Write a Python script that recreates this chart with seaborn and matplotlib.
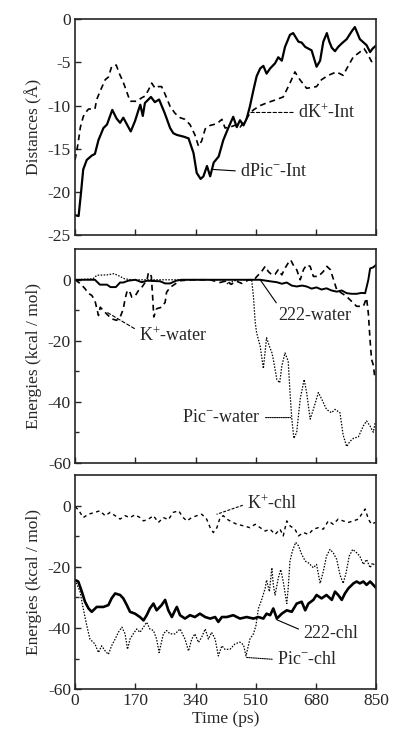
import numpy as np
import pandas as pd
import matplotlib
matplotlib.use("Agg")
import matplotlib.pyplot as plt
import seaborn as sns

# ---- panel 1: distances (A) ----
dpic_t = [0, 10, 17, 23, 33, 47, 56, 66, 80, 90, 105, 117, 127, 136, 157, 169, 179, 184, 191, 197,
          214, 225, 237, 253, 268, 277, 287, 306, 320, 334, 343, 354, 362, 372, 381, 391, 405, 418,
          432, 446, 456, 465, 475, 484, 493, 503, 512, 522, 531, 540, 550, 564, 573, 583, 592, 606,
          615, 630, 639, 649, 667, 681, 691, 700, 710, 717, 724, 733, 742, 752, 766, 780, 789, 803,
          822, 832, 839, 850]
dpic_v = [-22.7, -22.8, -20.0, -17.4, -16.3, -15.8, -15.6, -14.0, -12.6, -12.2, -10.5, -11.5, -12.0,
          -11.4, -13.0, -11.8, -10.5, -9.9, -11.2, -9.7, -9.0, -9.6, -9.3, -10.9, -12.6, -13.2, -13.4,
          -13.6, -13.8, -15.5, -17.8, -18.5, -18.2, -17.0, -18.2, -16.6, -15.9, -14.0, -12.6, -11.3,
          -12.5, -11.7, -12.3, -11.5, -10.1, -8.2, -6.6, -5.7, -5.4, -6.3, -5.7, -5.1, -4.4, -4.8,
          -3.2, -1.8, -1.6, -2.6, -2.7, -3.2, -3.6, -5.5, -4.8, -2.6, -1.6, -2.6, -3.3, -3.7, -3.2,
          -2.8, -2.3, -1.4, -0.9, -2.3, -3.0, -3.8, -3.4, -3.0]

dk_t = [0, 8, 15, 23, 28, 38, 56, 61, 70, 85, 94, 103, 116, 125, 136, 150, 155, 174, 188, 197, 207,
        216, 226, 235, 244, 254, 268, 282, 296, 310, 324, 338, 348, 357, 367, 381, 400, 414, 423,
        437, 456, 465, 475, 484, 493, 503, 522, 540, 568, 587, 606, 620, 634, 653, 681, 695, 714,
        737, 756, 765, 784, 803, 815, 826, 836, 845, 850]
dk_v = [-16.3, -14.5, -12.5, -11.3, -10.9, -10.4, -10.4, -9.3, -8.4, -7.0, -6.7, -5.5, -5.3, -6.3,
        -7.3, -8.9, -9.5, -9.5, -9.1, -8.9, -8.2, -7.4, -8.0, -7.8, -7.8, -8.7, -10.1, -10.9, -11.4,
        -11.6, -12.2, -13.4, -14.7, -14.1, -12.7, -12.3, -12.1, -11.6, -12.6, -12.5, -12.2, -12.5,
        -12.0, -11.5, -10.9, -10.5, -10.0, -9.7, -9.3, -9.0, -7.4, -6.1, -7.0, -8.0, -7.8, -7.0,
        -6.5, -6.1, -6.5, -5.8, -4.4, -3.8, -3.4, -4.1, -4.9, -4.7, -4.4]

# ---- panel 2: water energies ----
w222_t = [0, 56, 70, 90, 100, 115, 127, 136, 150, 170, 188, 203, 240, 254, 268, 285, 300, 522, 550,
          569, 583, 597, 611, 625, 640, 653, 667, 681, 695, 709, 723, 738, 752, 766, 780, 794, 808,
          818, 827, 832, 841, 850]
w222_v = [0, 0, -1.6, -1.6, -2.4, -2.4, -0.9, -0.9, -0.3, 0, -0.8, -0.3, -0.5, -1.2, -1.2, -0.3, 0,
          0, -0.5, -0.8, -1.3, -0.9, -1.9, -2.2, -1.9, -2.2, -2.9, -2.5, -3.2, -2.8, -3.5, -3.9,
          -3.5, -4.4, -4.6, -4.6, -4.3, -4.4, 0, 3.7, 4.1, 5.0]

kw_t = [0, 14, 28, 38, 47, 56, 66, 71, 80, 89, 103, 117, 127, 136, 141, 147, 153, 160, 170, 179,
        188, 203, 207, 215, 219, 222, 230, 244, 254, 258, 268, 282, 296, 330, 380, 409, 428, 440,
        456, 470, 490, 505, 512, 526, 536, 545, 555, 564, 573, 583, 592, 601, 608, 615, 625, 635,
        644, 653, 663, 672, 686, 700, 710, 720, 729, 738, 752, 766, 780, 794, 813, 822, 827, 832,
        836, 841, 846]
kw_v = [0, -1.2, -2.9, -4.5, -5.1, -6.8, -11.7, -9.0, -10.1, -11.2, -12.8, -13.3, -12.3, -9.6, -6.3,
        -3.6, -3.6, -5.7, -5.2, -3.5, -2.5, 0, 2.4, 1.2, -6.0, -12.2, -9.5, -9.0, -7.4, -4.1, -2.5,
        -1.4, -0.3, 0, 0, -0.9, -0.3, -1.5, -0.5, -1.2, 0, 0, 1.0, 2.7, 4.4, 2.7, 1.6, 1.8, 3.3,
        1.6, 3.8, 5.5, 6.5, 4.9, 3.3, 0, 3.3, 4.9, 4.4, 1.1, 1.1, 2.7, 4.4, 3.3, 0, -3.3, -4.4,
        -5.5, -7.1, -8.7, -8.7, -6.0, -11.0, -20.0, -26.0, -28.0, -32.7]

picw_t = [0, 50, 62, 90, 110, 125, 140, 160, 420, 432, 445, 460, 498, 503, 508, 512, 522, 526, 531,
          540, 548, 555, 559, 569, 577, 583, 592, 601, 606, 611, 617, 625, 635, 646, 653, 663, 672,
          686, 695, 709, 723, 733, 747, 756, 766, 775, 785, 799, 813, 822, 832, 841, 846]
picw_v = [0, 0.3, 1.5, 1.6, 2.0, 1.2, 0.3, 0, 0, -1.5, -0.5, 0, 0, -5.5, -14.0, -17.4, -21.8, -25.0,
          -29.1, -19.0, -21.8, -23.9, -26.1, -32.7, -33.8, -28.3, -24.0, -26.7, -36.7, -45.4, -52.0,
          -50.0, -39.0, -32.7, -37.0, -45.7, -42.5, -37.0, -39.0, -42.5, -43.6, -42.5, -43.6, -51.0,
          -54.7, -53.0, -52.0, -51.5, -47.9, -46.3, -48.0, -50.0, -47.0]

# ---- panel 3: chloroform energies ----
kchl_t = [0, 9, 23, 38, 56, 70, 85, 99, 113, 127, 141, 155, 169, 183, 193, 207, 221, 235, 249, 263,
          277, 292, 305, 315, 329, 343, 357, 371, 381, 390, 400, 409, 418, 428, 437, 456, 475, 493,
          508, 522, 536, 550, 564, 578, 587, 597, 606, 620, 630, 644, 658, 672, 686, 700, 714, 728,
          742, 756, 770, 785, 799, 808, 818, 827, 836, 846]
kchl_v = [-0.4, -1.3, -3.9, -2.8, -2.2, -1.7, -3.3, -2.2, -3.3, -4.4, -3.3, -3.9, -3.0, -3.9, -5.0,
          -4.4, -3.3, -5.5, -3.9, -4.6, -2.2, -1.7, -3.9, -5.0, -3.9, -3.3, -2.8, -4.4, -7.2, -8.8,
          -7.2, -3.9, -3.3, -4.4, -5.0, -6.1, -6.6, -7.2, -6.1, -7.2, -8.3, -7.7, -9.4, -7.7, -9.9,
          -5.0, -6.6, -7.7, -9.9, -8.8, -9.4, -7.7, -7.2, -7.7, -5.0, -6.1, -4.4, -5.0, -5.5, -5.0,
          -4.4, -2.8, -1.1, -4.4, -6.1, -5.5]

chl222_t = [0, 9, 19, 28, 38, 47, 61, 80, 94, 103, 113, 127, 136, 146, 155, 169, 183, 193, 202, 211,
            221, 230, 244, 254, 263, 273, 282, 287, 296, 310, 324, 338, 352, 367, 381, 395, 404,
            414, 428, 446, 465, 484, 503, 517, 531, 540, 550, 559, 569, 583, 597, 611, 625, 639,
            649, 658, 672, 681, 695, 709, 724, 733, 742, 752, 761, 771, 785, 794, 803, 813, 822,
            832, 841, 850]
chl222_v = [-24.3, -24.8, -28.1, -31.4, -33.6, -34.7, -33.1, -33.1, -32.5, -30.3, -28.7, -29.2, -30.3,
            -32.5, -34.7, -35.3, -36.4, -37.5, -35.8, -33.6, -32.0, -34.2, -32.5, -30.8, -34.2,
            -36.4, -34.2, -33.1, -35.8, -36.9, -35.8, -36.4, -35.3, -36.4, -36.9, -36.4, -38.0,
            -36.4, -36.4, -35.8, -36.9, -36.4, -36.9, -36.4, -36.9, -35.3, -35.8, -33.6, -36.9,
            -35.3, -34.2, -34.7, -32.0, -31.4, -34.2, -32.0, -30.8, -29.2, -30.3, -29.2, -30.8,
            -28.1, -29.2, -30.8, -28.7, -27.0, -25.4, -24.8, -25.4, -24.8, -25.9, -24.8, -25.9,
            -27.0]

picchl_t = [0, 14, 23, 33, 42, 56, 66, 75, 85, 94, 103, 113, 122, 132, 141, 148, 155, 164, 174, 183,
            193, 202, 211, 221, 230, 237, 249, 258, 268, 282, 296, 310, 320, 329, 338, 348, 357,
            367, 376, 385, 395, 404, 414, 423, 437, 451, 465, 475, 482, 493, 503, 510, 517, 526,
            536, 540, 548, 555, 559, 564, 573, 580, 587, 597, 601, 606, 613, 622, 630, 639, 649,
            658, 672, 681, 691, 700, 709, 719, 728, 738, 747, 756, 764, 773, 783, 794, 803, 813,
            822, 832, 839, 846]
picchl_v = [-24.3, -28.1, -33.6, -39.2, -43.6, -45.2, -48.0, -45.8, -47.5, -48.6, -45.8, -43.6, -41.4,
            -39.7, -41.9, -46.9, -43.6, -41.9, -40.3, -41.4, -39.7, -38.1, -40.3, -40.8, -43.6,
            -48.0, -41.9, -40.8, -41.9, -41.9, -40.3, -43.6, -47.5, -43.6, -41.9, -44.7, -43.0,
            -40.3, -43.6, -41.4, -43.6, -49.1, -45.8, -47.0, -46.9, -45.2, -44.6, -45.5, -49.1,
            -43.6, -41.9, -39.2, -33.6, -30.8, -27.0, -24.3, -28.1, -20.3, -25.9, -29.2, -23.7,
            -20.9, -24.8, -32.0, -27.0, -18.1, -14.8, -12.0, -13.1, -15.9, -18.1, -18.7, -20.3,
            -19.2, -25.4, -21.5, -16.5, -14.3, -15.4, -17.6, -22.6, -25.4, -22.1, -16.5, -14.3,
            -15.4, -16.5, -19.2, -17.6, -20.3, -18.7, -19.8]

time_ticks = [0, 170, 340, 510, 680, 850]

sns.set_style("ticks")
plt.rcParams['font.family'] = ['Liberation Serif', 'DejaVu Serif']
plt.rcParams['font.size'] = 12.5
plt.rcParams['axes.unicode_minus'] = False
plt.rcParams['axes.linewidth'] = 1.2
plt.rcParams['mathtext.fontset'] = 'custom'
plt.rcParams['mathtext.rm'] = 'Liberation Serif'
plt.rcParams['mathtext.default'] = 'rm'

fig = plt.figure(figsize=(3.93, 7.36), dpi=100)
ax1 = fig.add_axes([0.191, 0.6807, 0.767, 0.2931])
ax2 = fig.add_axes([0.191, 0.3713, 0.767, 0.2900])
ax3 = fig.add_axes([0.191, 0.0635, 0.767, 0.2911])


def draw(ax, t, v, lw, dashes=None):
    df = pd.DataFrame({"t": t, "v": v})
    sns.lineplot(data=df, x="t", y="v", ax=ax, color="black", lw=lw,
                 estimator=None, sort=True)
    if dashes is not None:
        ax.lines[-1].set_dashes(dashes)


def label(ax, txt, xy, xytext, ls="-", relpos=(0, 0.5), ha="left"):
    ax.annotate(txt, xy=xy, xytext=xytext, ha=ha, va="center", fontsize=13,
                arrowprops=dict(arrowstyle="-", color="black", lw=0.8, linestyle=ls,
                                relpos=relpos, shrinkA=1, shrinkB=0))


# panel 1
draw(ax1, dpic_t, dpic_v, 1.6)
draw(ax1, dk_t, dk_v, 1.2, (3.5, 2.5))
ax1.set_ylim(-25, 0)
ax1.set_yticks([0, -5, -10, -15, -20, -25])
ax1.set_ylabel("Distances (Å)")
label(ax1, r"dK$^{+}$-Int", (495, -10.8), (628, -10.8), ls=(0, (3, 2)))
label(ax1, r"dPic$^{-}$-Int", (388, -17.4), (465, -17.6))

# panel 2
draw(ax2, w222_t, w222_v, 1.4)
draw(ax2, kw_t, kw_v, 1.2, (3.5, 2.5))
draw(ax2, picw_t, picw_v, 0.9, (1.2, 1.2))
ax2.set_ylim(-60, 10)
ax2.set_yticks([-60, -40, -20, 0])
ax2.set_yticks([-50, -30, -10], minor=True)
ax2.set_ylabel("Energies (kcal / mol)")
label(ax2, r"K$^{+}$-water", (92, -10.8), (180, -18.4), ls=(0, (3, 2)), relpos=(0, 0.75))
label(ax2, "222-water", (522, 0), (572, -11.8), relpos=(0.02, 1.0))
label(ax2, r"Pic$^{-}$-water", (608, -45.2), (524, -45.2), ls=(0, (1, 1)), relpos=(1, 0.5), ha="right")

# panel 3
draw(ax3, kchl_t, kchl_v, 1.0, (2.5, 2.5))
draw(ax3, chl222_t, chl222_v, 1.9)
draw(ax3, picchl_t, picchl_v, 0.9, (1.2, 1.2))
ax3.set_ylim(-60, 10)
ax3.set_yticks([-60, -40, -20, 0])
ax3.set_yticks([-50, -30, -10], minor=True)
ax3.set_ylabel("Energies (kcal / mol)")
ax3.set_xlabel("Time (ps)", labelpad=1)
label(ax3, r"K$^{+}$-chl", (400, -2.8), (485, 0.6), ls=(0, (2, 2)))
label(ax3, "222-chl", (569, -37.3), (643, -41.8), relpos=(0, 0.65))
label(ax3, r"Pic$^{-}$-chl", (482, -49.6), (569, -50.3), ls=(0, (1, 1)))

for ax in (ax1, ax2, ax3):
    ax.set_xlim(0, 850)
    ax.set_xticks(time_ticks)
    ax.tick_params(direction="in", length=4, width=1, pad=3, labelsize=12.5)
    ax.tick_params(which="minor", direction="in", length=3, width=1)
    for s in ax.spines.values():
        s.set_visible(True)
    if ax is not ax3:
        ax.set_xticklabels([])
        ax.set_xlabel("")

fig.savefig("out.png", dpi=100)
